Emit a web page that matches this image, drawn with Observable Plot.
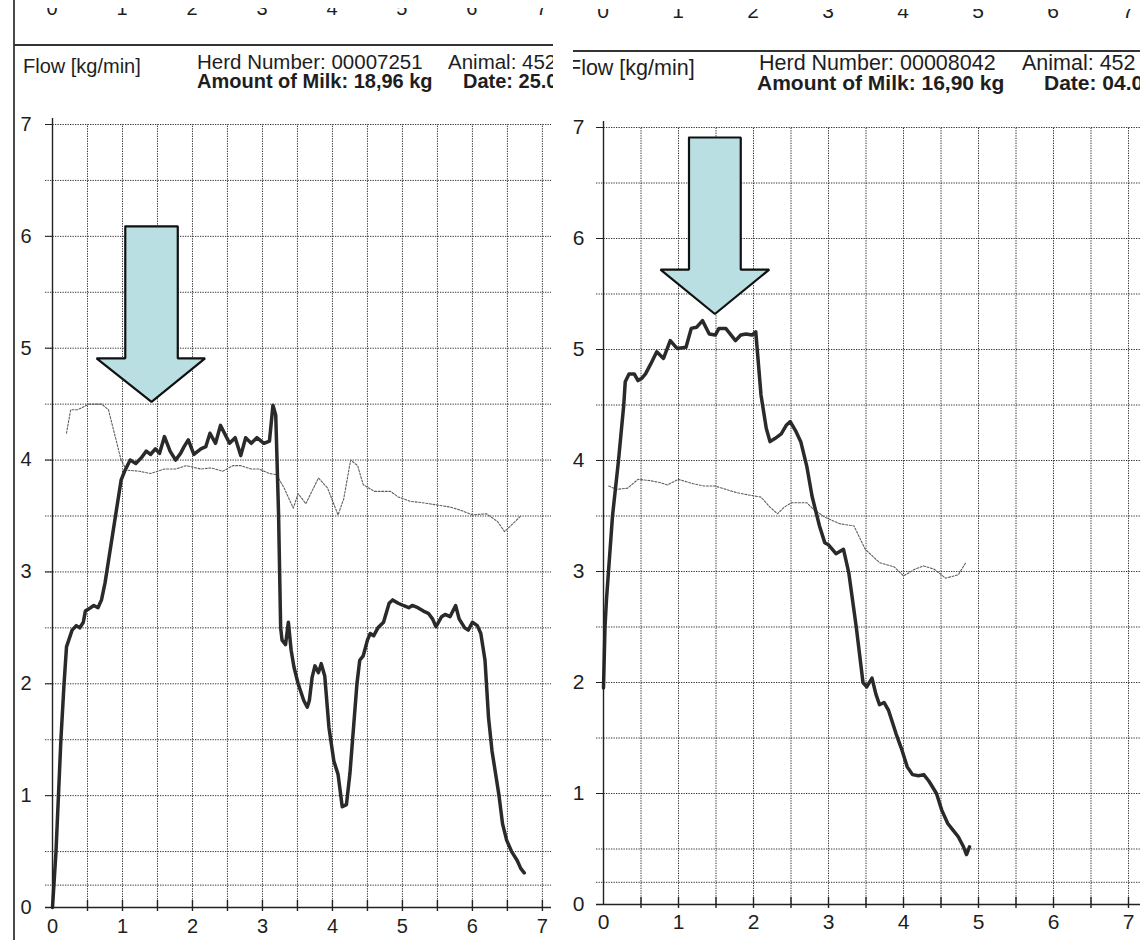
<!DOCTYPE html>
<html><head><meta charset="utf-8">
<script src="https://cdn.jsdelivr.net/npm/d3@7"></script>
<script src="https://cdn.jsdelivr.net/npm/@observablehq/plot@0.6"></script>
<style>
html,body{margin:0;padding:0;background:#fff;}
#page{position:relative;width:1140px;height:940px;overflow:hidden;background:#fff;font-family:"Liberation Sans",Arial,sans-serif;color:#1e1e1e;}
.panel{position:absolute;top:0;height:940px;overflow:hidden;}
.panel svg{position:absolute;left:0;top:0;}
.t{position:absolute;white-space:nowrap;}
.b{font-weight:bold;}
.strip{position:absolute;left:0;right:0;overflow:hidden;}
.rule{position:absolute;background:#333;}
</style></head>
<body><div id="page">
<div id="left" class="panel" style="left:0;width:553px"></div>
<div id="right" class="panel" style="left:573px;width:567px"></div>
</div>
<script>
// ---------- data ----------
const xTickLabels = [0, 1, 2, 3, 4, 5, 6, 7];
const yTickLabels = [0, 1, 2, 3, 4, 5, 6, 7];
const gridX = [0.5, 1, 1.5, 2, 2.5, 3, 3.5, 4, 4.5, 5, 5.5, 6, 6.5, 7];
const gridY = [0.2, 0.5, 1, 1.5, 2, 2.5, 3, 3.5, 4, 4.5, 5, 5.5, 6, 6.5, 7];

// left milking (Herd 00007251)
const leftTime = [0,0.05,0.12,0.165,0.2,0.28,0.34,0.39,0.44,0.47,0.52,0.59,0.65,0.70,0.75,0.80,0.85,0.9,0.98,1.03,1.11,1.19,1.27,1.34,1.40,1.47,1.53,1.6,1.68,1.76,1.83,1.88,1.94,2.02,2.12,2.19,2.25,2.33,2.40,2.53,2.61,2.69,2.76,2.84,2.92,3.02,3.10,3.15,3.19,3.23,3.26,3.28,3.33,3.37,3.41,3.45,3.51,3.59,3.64,3.67,3.71,3.75,3.80,3.84,3.89,3.95,4.02,4.08,4.14,4.20,4.25,4.30,4.35,4.39,4.44,4.50,4.54,4.59,4.65,4.73,4.81,4.86,4.94,5.01,5.09,5.14,5.22,5.30,5.37,5.43,5.48,5.56,5.61,5.68,5.76,5.81,5.89,5.94,6.0,6.07,6.12,6.18,6.23,6.28,6.33,6.38,6.43,6.49,6.56,6.64,6.69,6.74];
const leftFlow = [0,0.5,1.5,2.0,2.33,2.48,2.52,2.5,2.55,2.65,2.67,2.7,2.68,2.75,2.9,3.1,3.3,3.5,3.82,3.9,4.0,3.97,4.02,4.08,4.05,4.1,4.06,4.21,4.08,4.0,4.06,4.12,4.18,4.05,4.1,4.12,4.24,4.15,4.31,4.15,4.2,4.04,4.2,4.15,4.2,4.15,4.17,4.49,4.4,3.52,2.5,2.39,2.35,2.55,2.3,2.15,2.0,1.85,1.79,1.85,2.06,2.16,2.1,2.18,2.07,1.61,1.31,1.19,0.9,0.92,1.2,1.6,2.0,2.21,2.25,2.39,2.45,2.43,2.5,2.55,2.72,2.75,2.72,2.7,2.68,2.7,2.68,2.65,2.63,2.58,2.51,2.6,2.62,2.6,2.7,2.58,2.5,2.48,2.55,2.52,2.45,2.21,1.7,1.4,1.2,1.0,0.75,0.6,0.5,0.42,0.35,0.31];
const leftRefTime = [0.2,0.26,0.36,0.52,0.70,0.8,0.9,0.98,1.06,1.24,1.40,1.60,1.76,1.91,2.12,2.27,2.43,2.58,2.69,2.84,2.95,3.10,3.2,3.31,3.44,3.51,3.62,3.80,3.93,4.08,4.16,4.26,4.36,4.44,4.6,4.83,4.94,5.12,5.27,5.48,5.68,5.84,6.0,6.2,6.36,6.46,6.56,6.69];
const leftRefFlow = [4.24,4.45,4.45,4.5,4.5,4.45,4.2,4.0,3.91,3.9,3.88,3.92,3.92,3.95,3.92,3.93,3.9,3.95,3.95,3.92,3.92,3.88,3.87,3.75,3.57,3.70,3.61,3.84,3.75,3.51,3.65,4.0,3.95,3.78,3.72,3.72,3.67,3.63,3.62,3.6,3.58,3.55,3.51,3.52,3.45,3.36,3.42,3.5];
const leftArrowX = [1.04,1.04,0.63,1.415,2.18,1.79,1.79,1.04];
const leftArrowY = [6.09,4.91,4.91,4.52,4.91,4.91,6.09,6.09];

// right milking (Herd 00008042)
const rightTime = [0,0.02,0.04,0.12,0.2,0.27,0.29,0.34,0.41,0.46,0.51,0.56,0.63,0.71,0.80,0.89,0.98,1.10,1.17,1.24,1.32,1.41,1.49,1.54,1.63,1.76,1.83,1.90,1.98,2.03,2.1,2.17,2.22,2.29,2.37,2.44,2.49,2.56,2.63,2.71,2.78,2.88,2.95,3.0,3.1,3.15,3.2,3.27,3.37,3.46,3.51,3.58,3.63,3.68,3.74,3.8,3.9,3.98,4.05,4.12,4.2,4.27,4.34,4.44,4.51,4.59,4.66,4.73,4.80,4.84,4.88];
const rightFlow = [1.95,2.5,2.75,3.5,4.0,4.5,4.71,4.78,4.78,4.72,4.74,4.78,4.87,4.98,4.92,5.08,5.01,5.02,5.19,5.2,5.26,5.14,5.13,5.19,5.19,5.08,5.13,5.14,5.13,5.16,4.59,4.29,4.17,4.2,4.24,4.32,4.35,4.27,4.17,3.95,3.68,3.41,3.26,3.24,3.16,3.18,3.2,2.99,2.5,2.0,1.96,2.04,1.9,1.8,1.82,1.75,1.54,1.39,1.24,1.17,1.16,1.17,1.11,1.0,0.85,0.73,0.67,0.61,0.52,0.45,0.52];
const rightRefTime = [0.07,0.17,0.32,0.46,0.61,0.76,0.85,1.0,1.2,1.34,1.49,1.63,1.78,1.93,2.1,2.22,2.32,2.41,2.51,2.71,2.80,2.95,3.15,3.34,3.49,3.68,3.88,4.0,4.15,4.27,4.41,4.56,4.73,4.83];
const rightRefFlow = [3.77,3.74,3.75,3.83,3.82,3.8,3.78,3.83,3.79,3.77,3.77,3.74,3.71,3.69,3.67,3.58,3.52,3.58,3.62,3.62,3.56,3.49,3.43,3.41,3.2,3.08,3.04,2.96,3.02,3.05,3.02,2.94,2.97,3.08];
const rightArrowX = [1.14,1.14,0.76,1.485,2.21,1.83,1.83,1.14];
const rightArrowY = [6.91,5.72,5.72,5.32,5.72,5.72,6.91,6.91];

// header texts
const leftHeader = ["Flow [kg/min]", "Herd Number: 00007251", "Animal: 452", "Amount of Milk: 18,96 kg", "Date: 25.0"];
const rightHeader = ["Flow [kg/min]", "Herd Number: 00008042", "Animal: 452", "Amount of Milk: 16,90 kg", "Date: 04.0"];

// ---------- drawing ----------
const zip = (xs, ys) => xs.map((x, i) => ({x, y: ys[i]}));
const FONT = "'Liberation Sans', Arial, sans-serif";
const gridStyle = {stroke: "#333", strokeWidth: 1, strokeDasharray: "1.3,1.2"};
const fmt = d => String(d);

function chart(c) {
  return Plot.plot({
    width: c.width, height: 940,
    marginLeft: c.ml, marginRight: c.mr, marginTop: c.mt, marginBottom: c.mb,
    x: {domain: [0, c.xmax]},
    y: {domain: [0, 7]},
    style: {background: "transparent", overflow: "visible", fontFamily: FONT, color: "#1e1e1e"},
    marks: [
      Plot.ruleY(gridY, {...gridStyle, insetLeft: -7}),
      Plot.ruleX(gridX, {...gridStyle, y1: 0, y2: 7}),
      Plot.line(zip(c.refT, c.refF), {x: "x", y: "y", stroke: "#5f5f5f", strokeWidth: 1.1, strokeDasharray: "2,1.6"}),
      Plot.line(zip(c.t, c.f), {x: "x", y: "y", stroke: "#2a2a2a", strokeWidth: 3.5, strokeLinejoin: "round", strokeLinecap: "round"}),
      Plot.line(zip(c.ax, c.ay), {x: "x", y: "y", fill: "#b9dfe2", stroke: "#111", strokeWidth: 2.2, strokeLinejoin: "miter"}),
      Plot.ruleY([0], {stroke: "#222", strokeWidth: 1.6, insetLeft: -7}),
      Plot.ruleX([0], {y1: 7, y2: 0, stroke: "#222", strokeWidth: 1.4, insetTop: -6}),
      Plot.ruleX(gridX, {y1: 0, y2: 0, insetTop: -7, insetBottom: -4, stroke: "#222", strokeWidth: 1.4}),
      Plot.axisX(xTickLabels, {tickSize: 0, tickPadding: c.xpad, fontSize: c.fs, label: null, tickFormat: fmt}),
      Plot.axisY(yTickLabels, {tickSize: 7, tickPadding: c.ypad, fontSize: c.fs, label: null, stroke: "#222", tickFormat: fmt})
    ]
  });
}

const LH = 17; // header line box height
function text(parent, str, left, baseline, fs, bold) {
  const d = document.createElement("div");
  d.className = "t" + (bold ? " b" : "");
  d.textContent = str;
  d.style.left = left + "px";
  d.style.lineHeight = LH + "px";
  d.style.height = LH + "px";
  d.style.top = (baseline - (LH / 2 + 0.3465 * fs)) + "px";
  d.style.fontSize = fs + "px";
  parent.appendChild(d);
}
function rule(parent, left, top, w, h, color) {
  const d = document.createElement("div");
  d.className = "rule";
  Object.assign(d.style, {left: left + "px", top: top + "px", width: w + "px", height: h + "px", background: color});
  parent.appendChild(d);
}
function topFragments(parent, svg, stripTop, baseline, fs) {
  const strip = document.createElement("div");
  strip.className = "strip";
  strip.style.top = stripTop + "px";
  strip.style.height = "14px";
  const sx = svg.scale("x");
  for (const v of xTickLabels) {
    const d = document.createElement("div");
    d.className = "t";
    d.textContent = String(v);
    d.style.fontSize = fs + "px";
    d.style.lineHeight = "1";
    d.style.left = sx.apply(v) + "px";
    d.style.transform = "translateX(-50%)";
    d.style.top = (baseline - stripTop - 0.8465 * fs) + "px";
    strip.appendChild(d);
  }
  parent.appendChild(strip);
}

// left panel
const L = document.getElementById("left");
const leftSvg = chart({width: 553, ml: 52, mr: 2, mt: 124, mb: 33, xmax: 7.13, fs: 20, xpad: 11, ypad: 14,
  t: leftTime, f: leftFlow, refT: leftRefTime, refF: leftRefFlow, ax: leftArrowX, ay: leftArrowY});
L.appendChild(leftSvg);
rule(L, 13, 0, 2, 940, "#4a4a4a");
rule(L, 14, 44, 539, 2, "#333");
topFragments(L, leftSvg, 8, 15, 20);
text(L, leftHeader[0], 23, 73, 20, false);
text(L, leftHeader[1], 197, 69, 20.5, false);
text(L, leftHeader[2], 448, 69, 20.5, false);
text(L, leftHeader[3], 197, 88, 20, true);
text(L, leftHeader[4], 463, 88, 20, true);

// right panel
const R = document.getElementById("right");
const rightSvg = chart({width: 567, ml: 30, mr: 0, mt: 127, mb: 36, xmax: 7.16, fs: 21, xpad: 10, ypad: 12,
  t: rightTime, f: rightFlow, refT: rightRefTime, refF: rightRefFlow, ax: rightArrowX, ay: rightArrowY});
R.appendChild(rightSvg);
rule(R, 0, 50, 567, 2, "#333");
topFragments(R, rightSvg, 9, 18, 21);
text(R, rightHeader[0], -5, 76, 21.5, false);
text(R, rightHeader[1], 186, 71, 21.5, false);
text(R, rightHeader[2], 449, 71, 21.5, false);
text(R, rightHeader[3], 184, 90, 21, true);
text(R, rightHeader[4], 471, 90, 21, true);
</script>
</body></html>
